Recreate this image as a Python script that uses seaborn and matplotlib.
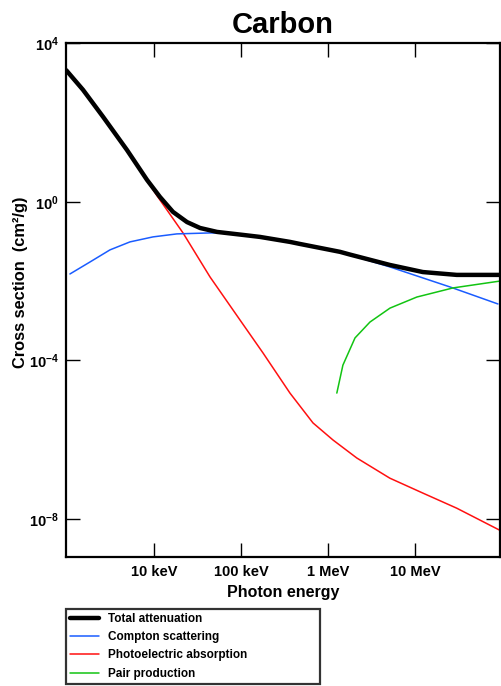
import numpy as np
import pandas as pd
import matplotlib
matplotlib.use("Agg")
import matplotlib.pyplot as plt
import seaborn as sns

# photon energy in MeV, mass attenuation in cm^2/g
total_E = [9.7e-4, 1.51e-3, 2.57e-3, 4.85e-3, 8.24e-3, 1.16e-2, 1.64e-2, 2.38e-2, 3.36e-2,
           5.27e-2, 0.105, 0.164, 0.364, 0.474, 1.37, 1.78, 5.13, 12.3, 30.2, 96]
total_mu = [2100, 676, 141, 20.4, 3.6, 1.34, 0.56, 0.31, 0.22,
            0.175, 0.147, 0.131, 0.098, 0.087, 0.055, 0.047, 0.0257, 0.017, 0.0144, 0.0144]

compton_E = [1.07e-3, 1.82e-3, 3.09e-3, 5.25e-3, 9.66e-3, 1.82e-2, 4.38e-2, 6.86e-2,
             0.164, 0.474, 1.37, 1.78, 5.13, 25.3, 90]
compton_mu = [0.0152, 0.0305, 0.0616, 0.098, 0.131, 0.156, 0.165, 0.163,
              0.129, 0.086, 0.054, 0.046, 0.0229, 0.00714, 0.00266]

photo_E = [9.7e-4, 1.51e-3, 2.57e-3, 4.85e-3, 8.24e-3, 1.07e-2, 2.14e-2, 4.38e-2, 9.68e-2,
           0.178, 0.364, 0.67, 1.14, 2.14, 5.13, 12.3, 30.2, 96]
photo_mu = [2080, 668, 139, 20.0, 3.45, 1.45, 0.165, 0.01276, 1.05e-3,
            1.55e-4, 1.5e-5, 2.65e-6, 9.8e-7, 3.45e-7, 1.07e-7, 4.5e-8, 1.87e-8, 5.1e-9]

pair_E = [1.26, 1.48, 2.04, 3.03, 5.15, 10.5, 27.4, 96]
pair_mu = [1.5e-5, 7.6e-5, 3.7e-4, 9.3e-4, 2.09e-3, 3.98e-3, 6.76e-3, 0.0101]

x_ticks = [1e-2, 1e-1, 1, 10]
x_labels = ["10 keV", "100 keV", "1 MeV", "10 MeV"]
y_ticks = [1e-8, 1e-4, 1, 1e4]
y_labels = [r"$\mathbf{10^{-8}}$", r"$\mathbf{10^{-4}}$", r"$\mathbf{10^{0}}$", r"$\mathbf{10^{4}}$"]

sns.set_style("white")
plt.rcParams["font.family"] = ["Liberation Sans", "DejaVu Sans"]
plt.rcParams["font.weight"] = "bold"
plt.rcParams["mathtext.fontset"] = "custom"
plt.rcParams["mathtext.bf"] = "Liberation Sans:bold"
plt.rcParams["mathtext.rm"] = "Liberation Sans:bold"
for k in ["text.color", "axes.labelcolor", "xtick.color", "ytick.color"]:
    plt.rcParams[k] = "black"

fig = plt.figure(figsize=(5.01, 6.86), dpi=100)
ax = fig.add_axes([66/501, 1 - 557/686, 434/501, 514/686])

series = [
    ("Total attenuation", total_E, total_mu, "black", 3.2),
    ("Compton scattering", compton_E, compton_mu, "#1a5cff", 1.1),
    ("Photoelectric absorption", photo_E, photo_mu, "#ff1010", 1.1),
    ("Pair production", pair_E, pair_mu, "#12c412", 1.1),
]
# draw black last so it sits on top
for name, E, mu, col, lw in [series[2], series[1], series[3], series[0]]:
    df = pd.DataFrame({"E": E, "mu": mu})
    sns.lineplot(data=df, x="E", y="mu", ax=ax, color=col, linewidth=lw,
                 estimator=None, sort=False, label=name, legend=False)

ax.set_xscale("log")
ax.set_yscale("log")
ax.set_xlim(10**-3.016, 10**1.978)
ax.set_ylim(10**-8.96, 10**4.01)

ax.set_xticks(x_ticks)
ax.set_xticklabels(x_labels)
ax.set_yticks(y_ticks)
ax.set_yticklabels(y_labels)
ax.minorticks_off()
ax.tick_params(axis="both", which="major", direction="in", length=10, width=1,
               bottom=True, left=True, top=True, right=True, labelsize=10.5)
ax.tick_params(axis="x", pad=6)
ax.tick_params(axis="y", pad=5)
for lab in ax.get_xticklabels():
    lab.set_fontweight("bold")

for s in ax.spines.values():
    s.set_color("black")
    s.set_linewidth(1.6)

ax.set_xlabel("Photon energy", fontsize=11.5, fontweight="bold", labelpad=4)
ax.set_ylabel("Cross section  (cm²/g)", fontsize=11.8, fontweight="bold")
ax.yaxis.set_label_coords(-0.088, 0.535)
ax.set_title("Carbon", fontsize=21, fontweight="bold", pad=7)

handles = {}
for line in ax.get_lines():
    handles[line.get_label()] = line
order = [s[0] for s in series]
leg = fig.legend([handles[n] for n in order], order,
                 loc="upper left", bbox_to_anchor=(66/501, 1 - 609/686, 254/501, 0),
                 mode="expand", borderaxespad=0, fontsize=8.5, frameon=True,
                 fancybox=False, edgecolor="black", handlelength=2.5,
                 handletextpad=0.75, labelspacing=0.53, borderpad=0.33)
leg.get_frame().set_linewidth(1.6)
for t in leg.get_texts():
    t.set_fontweight("bold")

fig.savefig("out.png", dpi=100)
